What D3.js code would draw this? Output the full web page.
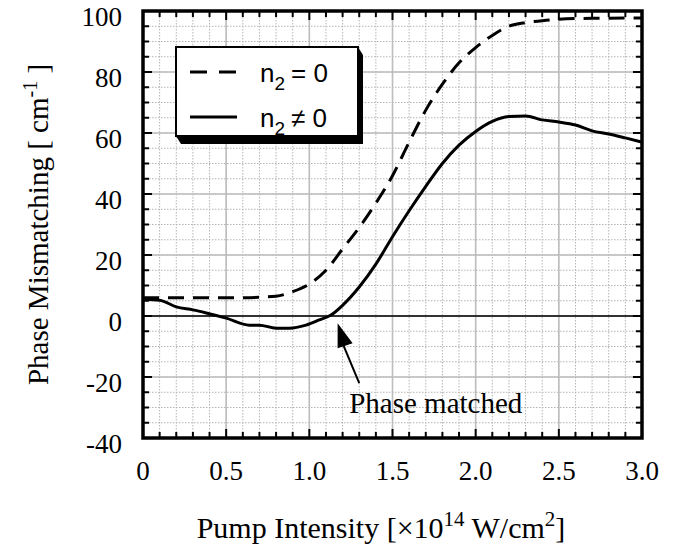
<!DOCTYPE html>
<html>
<head>
<meta charset="utf-8">
<script src="https://cdn.jsdelivr.net/npm/d3@7"></script>
<style>
  body { margin: 0; background: #fff; }
  text { fill: #000; }
</style>
</head>
<body>
<script>
// chart values
var dashX = [0, 0.2, 0.4, 0.6, 0.8, 0.9, 1.0, 1.1, 1.2, 1.3, 1.4, 1.5, 1.6, 1.7, 1.8, 1.9, 2.0, 2.1, 2.2, 2.3, 2.4, 2.5, 2.7, 3.0];
var dashY = [6, 6, 6, 6, 6.5, 8, 10.5, 15, 22, 29, 37, 46, 57, 67.5, 76, 83, 88, 92, 95, 96.2, 96.8, 97.3, 97.6, 97.7];

var solidX = [0, 0.1, 0.2, 0.3, 0.38, 0.5, 0.64, 0.7, 0.8, 0.88, 0.98, 1.06, 1.13, 1.2, 1.3, 1.4, 1.5, 1.6, 1.7, 1.8, 1.9, 2.0, 2.1, 2.2, 2.3, 2.4, 2.5, 2.6, 2.7, 2.8, 2.9, 3.0];
var solidY = [5.5, 5.2, 3, 2, 1, -0.7, -3, -3, -4, -4, -3, -1.3, 0.3, 3.5, 9.5, 17, 26, 34.5, 42.5, 50, 56, 60.5, 63.8, 65.4, 65.6, 64.3, 63.6, 62.6, 60.7, 59.7, 58.4, 57];

var xTicks = [0, 0.5, 1.0, 1.5, 2.0, 2.5, 3.0];
var yTicks = [-40, -20, 0, 20, 40, 60, 80, 100];
var legendLabels = ["= 0", "\u2260 0"];

// Width and height of page
var width = 689;
var height = 548;
var plotL = 143, plotR = 642, plotT = 11, plotB = 438;

var x = d3.scaleLinear().domain([0, 3]).range([plotL, plotR]);
var y = d3.scaleLinear().domain([-40, 100]).range([plotB, plotT]);

var svg = d3.select("body")
	.append("svg")
	.attr("width", width)
	.attr("height", height);

// minor (dotted) and major (solid) grid
var xMinor = d3.range(0, 31).map(function(i) { return i / 10; });
var yMinor = d3.range(-40, 101, 5);

svg.selectAll(".gx")
	.data(xMinor)
	.enter()
	.append("line")
	.attr("x1", function(d) { return x(d); })
	.attr("x2", function(d) { return x(d); })
	.attr("y1", plotT).attr("y2", plotB)
	.style("stroke", "#b4b4b4")
	.style("stroke-width", 1)
	.style("stroke-dasharray", "1.5,1.5");

svg.selectAll(".gy")
	.data(yMinor)
	.enter()
	.append("line")
	.attr("x1", plotL).attr("x2", plotR)
	.attr("y1", function(d) { return y(d); })
	.attr("y2", function(d) { return y(d); })
	.style("stroke", "#b4b4b4")
	.style("stroke-width", 1)
	.style("stroke-dasharray", "1.5,1.5");

svg.selectAll(".mx")
	.data(xTicks)
	.enter()
	.append("line")
	.attr("x1", function(d) { return x(d); })
	.attr("x2", function(d) { return x(d); })
	.attr("y1", plotT).attr("y2", plotB)
	.style("stroke", "#bdbdbd")
	.style("stroke-width", 1.6);

svg.selectAll(".my")
	.data(yTicks)
	.enter()
	.append("line")
	.attr("x1", plotL).attr("x2", plotR)
	.attr("y1", function(d) { return y(d); })
	.attr("y2", function(d) { return y(d); })
	.style("stroke", "#bdbdbd")
	.style("stroke-width", 1.6);

// zero line
svg.append("line")
	.attr("x1", plotL).attr("x2", plotR)
	.attr("y1", y(0)).attr("y2", y(0))
	.style("stroke", "#000")
	.style("stroke-width", 1.5);

// inward ticks on all four sides
function isMajorX(d) { return Math.abs(d * 2 - Math.round(d * 2)) < 1e-6; }
function isMajorY(d) { return d % 20 === 0; }

var ticks = svg.append("g").style("stroke", "#000").style("stroke-width", 2);
xMinor.forEach(function(d) {
	var len = isMajorX(d) ? 9 : 6;
	ticks.append("line").attr("x1", x(d)).attr("x2", x(d)).attr("y1", plotB).attr("y2", plotB - len);
	ticks.append("line").attr("x1", x(d)).attr("x2", x(d)).attr("y1", plotT).attr("y2", plotT + len);
});
yMinor.forEach(function(d) {
	var len = isMajorY(d) ? 9 : 6;
	ticks.append("line").attr("y1", y(d)).attr("y2", y(d)).attr("x1", plotL).attr("x2", plotL + len);
	ticks.append("line").attr("y1", y(d)).attr("y2", y(d)).attr("x1", plotR).attr("x2", plotR - len);
});

// curves
var line = d3.line()
	.x(function(d) { return x(d[0]); })
	.y(function(d) { return y(d[1]); })
	.curve(d3.curveMonotoneX);

svg.append("path")
	.attr("d", line(d3.zip(solidX, solidY)))
	.style("fill", "none")
	.style("stroke", "#000")
	.style("stroke-width", 3);

svg.append("path")
	.attr("d", line(d3.zip(dashX, dashY)))
	.style("fill", "none")
	.style("stroke", "#000")
	.style("stroke-width", 3)
	.style("stroke-dasharray", "16,9");

// frame
svg.append("rect")
	.attr("x", plotL).attr("y", plotT)
	.attr("width", plotR - plotL).attr("height", plotB - plotT)
	.style("fill", "none")
	.style("stroke", "#000")
	.style("stroke-width", 3.5);

// tick labels
svg.selectAll(".xl")
	.data(xTicks)
	.enter()
	.append("text")
	.attr("x", function(d) { return x(d); })
	.attr("y", 480)
	.attr("text-anchor", "middle")
	.style("font-family", "'Liberation Serif', 'Times New Roman', serif")
	.style("font-size", "27px")
	.text(function(d) { return d === 0 ? "0" : d3.format(".1f")(d); });

svg.selectAll(".yl")
	.data(yTicks)
	.enter()
	.append("text")
	.attr("x", 122)
	.attr("y", function(d) { return y(d) + 15; })
	.attr("text-anchor", "end")
	.style("font-family", "'Liberation Serif', 'Times New Roman', serif")
	.style("font-size", "27px")
	.text(function(d) { return d; });

// axis titles
var xt = svg.append("text")
	.attr("x", 381).attr("y", 538)
	.attr("text-anchor", "middle")
	.style("font-family", "'Liberation Serif', 'Times New Roman', serif")
	.style("font-size", "30px");
xt.append("tspan").text("Pump Intensity [\u00d710");
xt.append("tspan").attr("dy", -12).style("font-size", "21px").text("14");
xt.append("tspan").attr("dy", 12).text(" W/cm");
xt.append("tspan").attr("dy", -12).style("font-size", "21px").text("2");
xt.append("tspan").attr("dy", 12).text("]");

var yt = svg.append("text")
	.attr("transform", "translate(48," + ((plotT + plotB) / 2) + ") rotate(-90)")
	.attr("text-anchor", "middle")
	.style("font-family", "'Liberation Serif', 'Times New Roman', serif")
	.style("font-size", "29px");
yt.append("tspan").text("Phase Mismatching [ cm");
yt.append("tspan").attr("dy", -11).style("font-size", "20px").text("-1");
yt.append("tspan").attr("dy", 11).text(" ]");

// annotation
svg.append("line")
	.attr("x1", x(1.3)).attr("y1", y(-22))
	.attr("x2", x(1.20)).attr("y2", y(-9))
	.style("stroke", "#000")
	.style("stroke-width", 2);
var tip = [x(1.17), y(-2.4)];
svg.append("path")
	.attr("d", "M" + tip[0] + "," + tip[1] + "L" + (tip[0]) + "," + (tip[1] + 25) + "L" + (tip[0] + 15) + "," + (tip[1] + 20) + "Z")
	.style("fill", "#000");
svg.append("text")
	.attr("x", x(1.76)).attr("y", y(-31.8))
	.attr("text-anchor", "middle")
	.style("font-family", "'Liberation Serif', 'Times New Roman', serif")
	.style("font-size", "29px")
	.text("Phase matched");

// legend box with extruded shadow
var bx0 = 176, by0 = 47, bx1 = 358, by1 = 136, dx = 5, dy = 8;
svg.append("path")
	.attr("d", "M" + bx1 + "," + by0 + "L" + (bx1 + dx) + "," + (by0 + dy) + "L" + (bx1 + dx) + "," + (by1 + dy) +
		"L" + (bx0 + dx) + "," + (by1 + dy) + "L" + bx0 + "," + by1 + "Z")
	.style("fill", "#000");
svg.append("rect")
	.attr("x", bx0).attr("y", by0)
	.attr("width", bx1 - bx0).attr("height", by1 - by0)
	.style("fill", "#fff")
	.style("stroke", "#000")
	.style("stroke-width", 2);

var legY = [72, 117];
legY.forEach(function(ly, i) {
	svg.append("line")
		.attr("x1", 190).attr("x2", 237)
		.attr("y1", ly).attr("y2", ly)
		.style("stroke", "#000")
		.style("stroke-width", 3)
		.style("stroke-dasharray", i === 0 ? "17,12" : null);
	var t = svg.append("text")
		.attr("x", 260).attr("y", ly + 10)
		.style("font-family", "'Liberation Sans', Arial, sans-serif")
		.style("font-size", "26px");
	t.append("tspan").text("n");
	t.append("tspan").attr("dy", 8).style("font-size", "19px").text("2");
	t.append("tspan").attr("dy", -8).attr("dx", 6).text(legendLabels[i]);
});
</script>
</body>
</html>
